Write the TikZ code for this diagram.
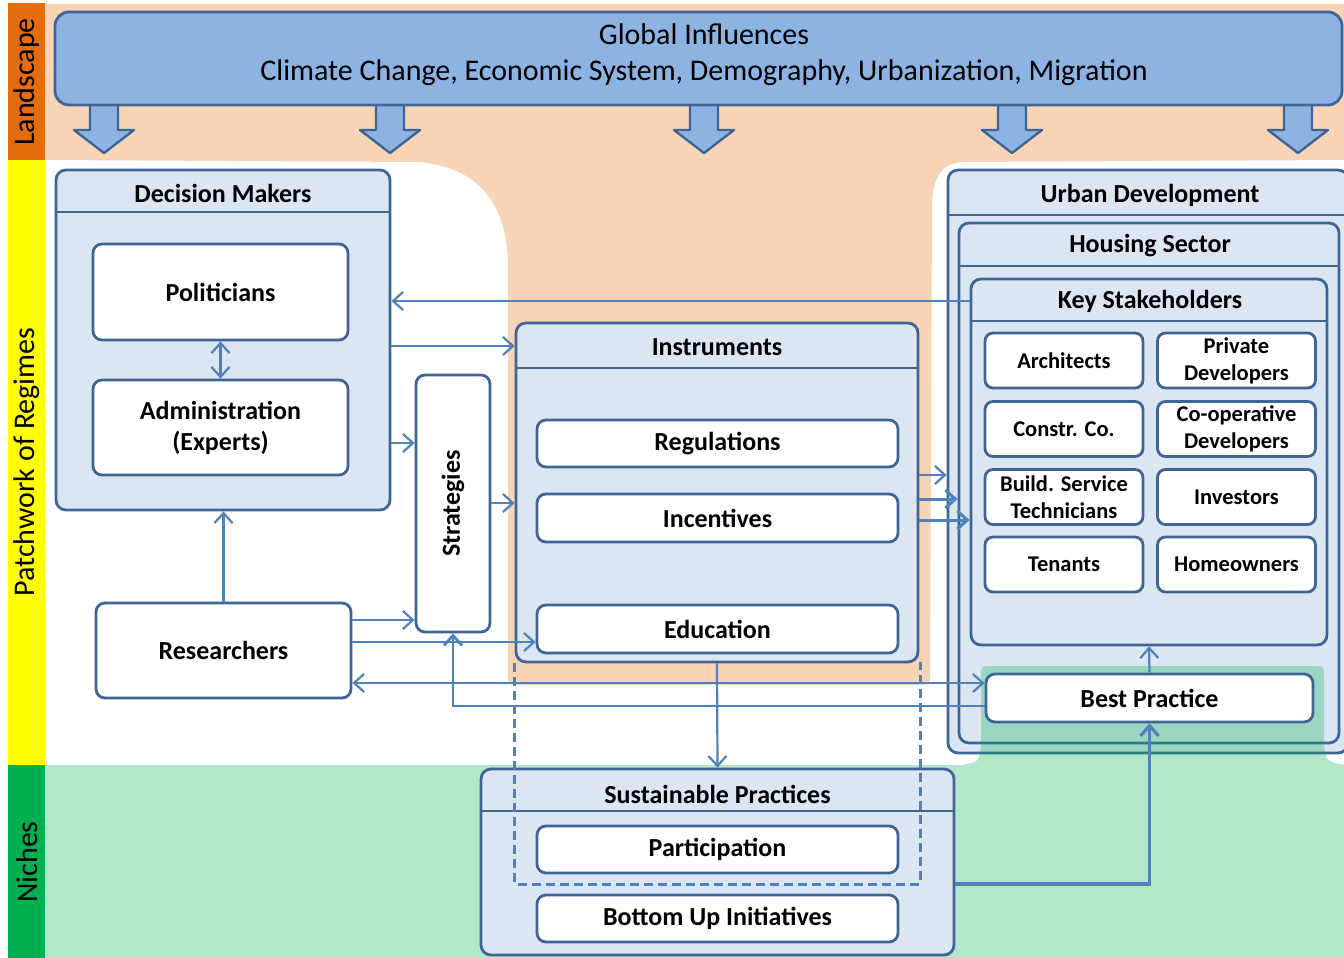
\documentclass[tikz,border=0pt]{standalone}
\usepackage{fontspec}
\setmainfont{Carlito}
\usetikzlibrary{arrows.meta}

\definecolor{landorange}{HTML}{E46C0A}
\definecolor{regyellow}{HTML}{FFFF00}
\definecolor{nichegreen}{HTML}{00B050}
\definecolor{peach}{HTML}{F7D4B5}
\definecolor{globfill}{HTML}{8DB3E2}
\definecolor{boxfill}{HTML}{DCE6F2}
\definecolor{boxline}{HTML}{3F6496}
\definecolor{linkblue}{HTML}{4F81BD}

\tikzset{
	frame/.style={draw=boxline, line width=2.8pt, fill=boxfill, rounded corners=10pt, inner sep=0pt},
	item/.style={draw=boxline, line width=2.8pt, fill=white, rounded corners=9pt, align=center, font=\fontsize{26}{31}\selectfont\bfseries},
	cell/.style={item, rounded corners=8pt, minimum width=158pt, minimum height=55pt, font=\fontsize{22.5}{27}\selectfont\bfseries},
	head/.style={font=\fontsize{26}{30}\selectfont\bfseries},
	band/.style={font=\fontsize{30}{34}\selectfont, rotate=90},
	link/.style={draw=linkblue, line width=2.2pt, ->},
}

\begin{document}
\begin{tikzpicture}[x=1pt, y=-1pt, >={Straight Barb[length=10pt,width=18pt]}]
	\useasboundingbox (0,0) rectangle (1344,958);
	% layers on the left
	\fill[landorange] (8,3) rectangle (45,160);
	\fill[regyellow] (8,160) rectangle (45,765);
	\fill[nichegreen] (8,765) rectangle (45,958);
	\node[band] (landlabel) at (27,82) {Landscape};
	\node[band] (reglabel) at (27,462) {Patchwork of Regimes};
	\node[band] (nichelabel) at (27,862) {Niches};
	\fill[peach] (45,4) -- (1344,4) -- (1344,160) -- (962,162) .. controls (940,164) and (933,178) .. (932,205) -- (930,672) .. controls (930,685) .. (917,685) -- (521,685) .. controls (508,685) .. (508,672) -- (508,265) .. controls (507,205) and (480,168) .. (420,162) -- (45,160) -- cycle;

	% global influences
	\foreach \ax in {104,390,704,1012,1298}
	{
		\draw[boxline, line width=2.4pt, fill=globfill, line join=round] (\ax-14,100) -- (\ax-14,130) -- (\ax-30,130) -- (\ax,153) -- (\ax+30,130) -- (\ax+14,130) -- (\ax+14,100);
	}
	\node[frame, fill=globfill, rounded corners=14pt, minimum width=1287pt, minimum height=93pt] (glob) at (698.5,58.5) {};
	\node[align=center, font=\fontsize{30}{36}\selectfont] (globtext) at (704,55) {Global Influences\\Climate Change, Economic System, Demography, Urbanization, Migration};

	% decision makers
	\node[frame, minimum width=334pt, minimum height=340pt] (dm) at (223,340) {};
	\draw[boxline, line width=2.8pt] (dm.west |- 0,212) -- (dm.east |- 0,212);
	\node[head] (dmtitle) at (223,193) {Decision Makers};
	\node[item, minimum width=255pt, minimum height=96pt] (pol) at (220.5,292) {Politicians};
	\node[item, minimum width=255pt, minimum height=95pt] (adm) at (220.5,427.5) {Administration\\(Experts)};
	\node[item, minimum width=255pt, minimum height=95pt] (res) at (223.5,650.5) {Researchers};
	\node[item, minimum width=74pt, minimum height=257pt] (strat) at (453,503.5) {\rotatebox{90}{Strategies}};

	% instruments
	\node[frame, minimum width=402pt, minimum height=339pt] (inst) at (717,492.5) {};
	\draw[boxline, line width=2.8pt] (inst.west |- 0,368) -- (inst.east |- 0,368);
	\node[head] (insttitle) at (717,347) {Instruments};
	\node[item, minimum width=361pt, minimum height=47pt] (reg) at (717.5,443.5) {Regulations};
	\node[item, minimum width=361pt, minimum height=48pt] (inc) at (717.5,518) {Incentives};
	\node[item, minimum width=361pt, minimum height=48pt] (edu) at (717.5,629) {Education};

	% urban development
	\node[frame, minimum width=400pt, minimum height=583pt] (urb) at (1148,461.5) {};
	\draw[boxline, line width=2.8pt] (urb.west |- 0,215) -- (urb.east |- 0,215);
	\node[head] (urbtitle) at (1150,195) {Urban Development};
	\node[frame, minimum width=380pt, minimum height=520pt] (hou) at (1149,483) {};
	\draw[boxline, line width=2.8pt] (hou.west |- 0,266) -- (hou.east |- 0,266);
	\node[head] (houtitle) at (1150,246) {Housing Sector};
	\node[frame, minimum width=356pt, minimum height=366pt] (ks) at (1149,462) {};
	\draw[boxline, line width=2.8pt] (ks.west |- 0,321) -- (ks.east |- 0,321);
	\node[head] (kstitle) at (1150,301) {Key Stakeholders};
	\node[cell] (arch) at (1064,360.5) {Architects};
	\node[cell] (priv) at (1236.5,360.5) {Private\\Developers};
	\node[cell] (cons) at (1064,429) {Constr. Co.};
	\node[cell] (coop) at (1236.5,429) {Co-operative\\Developers};
	\node[cell] (tech) at (1064,497) {Build. Service\\Technicians};
	\node[cell] (inv) at (1236.5,497) {Investors};
	\node[cell] (ten) at (1064,564.5) {Tenants};
	\node[cell] (home) at (1236.5,564.5) {Homeowners};

	% niches
	\fill[nichegreen, opacity=.3] (45,765) -- (962,765) .. controls (979,762) .. (981,745) -- (981,678) .. controls (981,666) .. (993,666) -- (1312,666) .. controls (1324,666) .. (1324,678) -- (1324,745) .. controls (1326,761) .. (1344,765) -- (1344,958) -- (45,958) -- cycle;
	\node[frame, minimum width=473pt, minimum height=186pt] (sus) at (717.5,862) {};
	\draw[boxline, line width=2.8pt] (sus.west |- 0,811) -- (sus.east |- 0,811);
	\node[head] (sustitle) at (717.5,794) {Sustainable Practices};
	\node[item, minimum width=361pt, minimum height=47pt] (par) at (717.5,849.5) {Participation};
	\node[item, minimum width=361pt, minimum height=47pt] (bot) at (717.5,918.5) {Bottom Up Initiatives};
	\node[item, minimum width=327pt, minimum height=48pt] (best) at (1149.5,698) {Best Practice};

	% links
	\draw[dashed, dash pattern=on 9pt off 5pt, linkblue, line width=3pt] (inst.south west) -- (inst.south west |- 0,884) -- (920,884) -- (920,662);
	\draw[link, <->] (pol.south) -- (adm.north);
	\draw[link] (res.north) -- (res.north |- dm.south);
	\draw[link] (ks.west |- 0,301) -- (dm.east |- 0,301);
	\draw[link] (dm.east |- 0,346) -- (inst.west |- 0,346);
	\draw[link] (dm.east |- 0,443) -- (strat.west |- 0,443);
	\draw[link] (strat.east |- 0,503) -- (inst.west |- 0,503);
	\draw[link] (res.east |- 0,620) -- (strat.west |- 0,620);
	\draw[link] (res.east |- 0,642) -- (edu.west |- 0,642);
	\draw[link, <->] (res.east |- 0,683) -- (best.west |- 0,683);
	\draw[link, line width=2.8pt] (best.west |- 0,706) -- (strat.south |- 0,706) -- (strat.south);
	\draw[link] (inst.east |- 0,475) -- (urb.west |- 0,475);
	\draw[link, line width=3pt] (inst.east |- 0,499) -- (hou.west |- 0,499);
	\draw[link, line width=3pt] (inst.east |- 0,520) -- (ks.west |- 0,520);
	\draw[link] (inst.south) -- (sus.north);
	\draw[link] (best.north) -- (ks.south);
	\draw[link, line width=3.2pt] (sus.east |- 0,884) -| (best.south);
\end{tikzpicture}
\end{document}
